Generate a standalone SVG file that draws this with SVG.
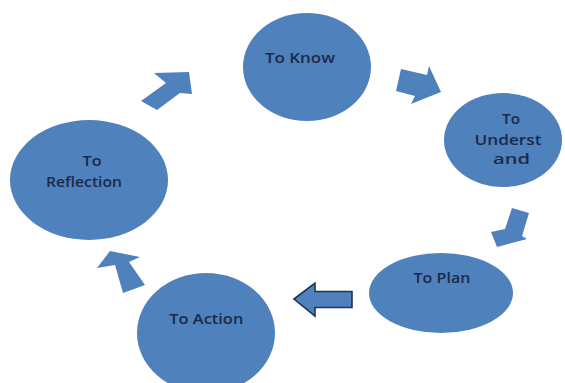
<svg xmlns="http://www.w3.org/2000/svg" width="565" height="383" viewBox="0 0 565 383">
<style>
.node{fill:#4f81bd}
.lbl{font-family:"Open Sans","Liberation Sans",sans-serif;font-weight:600;font-size:13.5px;fill:#1b2a47;text-anchor:middle}
.arr{fill:#4f81bd}
.arr-o{fill:#4f81bd;stroke:#1d3454;stroke-width:1.6;stroke-linejoin:miter}
</style>
<rect width="565" height="383" fill="#ffffff"/>
<g id="connectors">
<polygon class="arr" points="189,72 154,73 166,83 141,101 157,110 180,93 192,94"/>
<polygon class="arr" points="441,92 429,66 427,75 401,69 396,91 415,96 411,104"/>
<polygon class="arr" points="497,247 491,232 505,229 512,208 529,213 522,236 527,239"/>
<polygon class="arr-o" points="294,299 315,283 315,291.5 352,291.5 352,307.5 315,307.5 315,316"/>
<polygon class="arr" points="110,251 97,268 115,265 123,293 145,285 129,262 140,257"/>
</g>
<g id="know">
<ellipse class="node" cx="307" cy="67" rx="64" ry="54"/>
<text class="lbl" x="300" y="62.7" textLength="70" lengthAdjust="spacingAndGlyphs">To Know</text>
</g>
<g id="understand">
<ellipse class="node" cx="503" cy="140" rx="59" ry="47"/>
<text class="lbl" x="511" y="124.3" textLength="18" lengthAdjust="spacingAndGlyphs">To</text>
<text class="lbl" x="508" y="144.5" textLength="67" lengthAdjust="spacingAndGlyphs">Underst</text>
<text class="lbl" x="511.5" y="164" textLength="37" lengthAdjust="spacingAndGlyphs">and</text>
</g>
<g id="plan">
<ellipse class="node" cx="441" cy="293" rx="72" ry="40"/>
<text class="lbl" x="442" y="283.3" textLength="57" lengthAdjust="spacingAndGlyphs">To Plan</text>
</g>
<g id="action">
<ellipse class="node" cx="206" cy="333" rx="69" ry="60"/>
<text class="lbl" x="206.3" y="324" textLength="74" lengthAdjust="spacingAndGlyphs">To Action</text>
</g>
<g id="reflection">
<ellipse class="node" cx="89" cy="180" rx="79" ry="60"/>
<text class="lbl" x="92" y="166" textLength="19" lengthAdjust="spacingAndGlyphs">To</text>
<text class="lbl" x="84" y="186.7" textLength="76" lengthAdjust="spacingAndGlyphs">Reflection</text>
</g>
</svg>
